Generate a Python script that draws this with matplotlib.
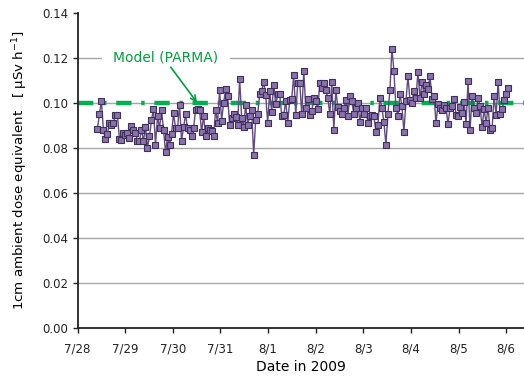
import numpy as np
import pandas as pd
import matplotlib
matplotlib.use("Agg")
import matplotlib.pyplot as plt
import matplotlib.dates as mdates

plt.rcParams['font.family'] = ['DejaVu Sans']
plt.rcParams['lines.scale_dashes'] = False

# hourly readings, 7/28 10:00 -> 8/6 ~01:00
dose = [
    0.0883, 0.0948, 0.1007, 0.0880, 0.0837, 0.0860, 0.0910, 0.0900, 0.0910, 0.0944,
    0.0944, 0.0837, 0.0833, 0.0864, 0.0854, 0.0864, 0.0842, 0.0894, 0.0880, 0.0867,
    0.0830, 0.0830, 0.0880, 0.0830, 0.0890, 0.0800, 0.0850, 0.0923, 0.0970, 0.0813,
    0.0940, 0.0887, 0.0966, 0.0880, 0.0780, 0.0846, 0.0810, 0.0860, 0.0953, 0.0887,
    0.0887, 0.0990, 0.0830, 0.0890, 0.0948, 0.0887, 0.0880, 0.0850, 0.0887, 0.0966,
    0.0970, 0.0966, 0.0870, 0.0941, 0.0852, 0.0887, 0.0880, 0.0876, 0.0852, 0.0966,
    0.0910, 0.1055, 0.0920, 0.0998, 0.1060, 0.1030, 0.0900, 0.0930, 0.0950, 0.0936,
    0.0900, 0.1107, 0.0933, 0.0892, 0.0990, 0.0900, 0.0940, 0.0966, 0.0766, 0.0922,
    0.0948, 0.1037, 0.1050, 0.1093, 0.1033, 0.0910, 0.1050, 0.0960, 0.1080, 0.0993,
    0.1037, 0.1037, 0.0941, 0.0945, 0.1007, 0.0910, 0.1012, 0.1018, 0.1123, 0.0945,
    0.1088, 0.1088, 0.0948, 0.1141, 0.0978, 0.1018, 0.0945, 0.0963, 0.1022, 0.1007,
    0.0973, 0.1088, 0.1064, 0.1088, 0.1055, 0.1022, 0.0948, 0.1090, 0.0877, 0.1055,
    0.0980, 0.0963, 0.0950, 0.0978, 0.1010, 0.0941, 0.1030, 0.1007, 0.0948, 0.0978,
    0.0998, 0.0915, 0.0978, 0.0948, 0.0978, 0.0910, 0.0940, 0.0945, 0.0941, 0.0870,
    0.0900, 0.1022, 0.0976, 0.0915, 0.0813, 0.0948, 0.1055, 0.1240, 0.1141, 0.0978,
    0.0941, 0.1037, 0.0985, 0.0870, 0.1007, 0.1117, 0.1010, 0.1000, 0.1050, 0.1022,
    0.1136, 0.1019, 0.1090, 0.1037, 0.1078, 0.1060, 0.1117, 0.1018, 0.1030, 0.0910,
    0.0993, 0.0978, 0.0969, 0.0990, 0.0978, 0.0905, 0.0976, 0.0985, 0.1018, 0.0945,
    0.0941, 0.0980, 0.0955, 0.1003, 0.0905, 0.1097, 0.0877, 0.1030, 0.0976, 0.0955,
    0.1022, 0.0983, 0.0892, 0.0970, 0.0910, 0.0978, 0.0877, 0.0887, 0.1030, 0.0945,
    0.1093, 0.0948, 0.0970, 0.1010, 0.1037, 0.1067,
]
times = pd.date_range('2009-07-28 10:00', '2009-08-06 01:00', periods=len(dose))
model_value = 0.10

fig = plt.figure(figsize=(5.24, 3.79), dpi=100)
ax = fig.add_axes([0.148, 0.135, 0.852, 0.832])

ax.plot(times, dose, color='#5f4b7e', lw=1.0, marker='s', ms=4.4,
        mfc='#8a72ad', mec='#3e3058', mew=0.8, zorder=3)
ax.axhline(model_value, color='#00b050', lw=3.2, dashes=(11, 7, 2.5, 7), zorder=2)

ax.set_ylim(0, 0.14)
ax.set_yticks(np.arange(0, 0.141, 0.02))
ax.yaxis.set_major_formatter(plt.FormatStrFormatter('%.2f'))
for v in np.arange(0.02, 0.121, 0.02):
    ax.axhline(v, color='#a6a6a6', lw=1.0, zorder=1)

ax.set_xlim(pd.Timestamp('2009-07-28'), pd.Timestamp('2009-08-06 09:00'))
ax.xaxis.set_major_locator(mdates.DayLocator())
ax.xaxis.set_major_formatter(mdates.DateFormatter('%-m/%-d'))

for s in ['top', 'right']:
    ax.spines[s].set_visible(False)
for s in ['left', 'bottom']:
    ax.spines[s].set_linewidth(1.3)
    ax.spines[s].set_color('#222222')
ax.tick_params(direction='out', length=3.5, width=1, labelsize=8.5, colors='#222222')
ax.tick_params(axis='x', pad=7)
ax.tick_params(axis='y', pad=3)

ax.set_xlabel('Date in 2009', fontsize=10, labelpad=3)
ax.set_ylabel('1cm ambient dose equivalent   [ \u03bcSv h$^{\\mathregular{-1}}$]',
              fontsize=9.6, labelpad=9)

ax.text(pd.Timestamp('2009-07-29 20:30'), 0.12, 'Model (PARMA)',
        ha='center', va='center', fontsize=10, color='#00a040',
        bbox=dict(boxstyle='square,pad=0.8', fc='white', ec='none'), zorder=5)
ax.annotate('', xy=(pd.Timestamp('2009-07-30 12:15'), model_value),
            xytext=(pd.Timestamp('2009-07-29 23:00'), 0.1157),
            arrowprops=dict(arrowstyle='->', color='#00a040', lw=1.2,
                            shrinkA=0, shrinkB=0),
            zorder=6)

fig.savefig('out.png', dpi=100)
